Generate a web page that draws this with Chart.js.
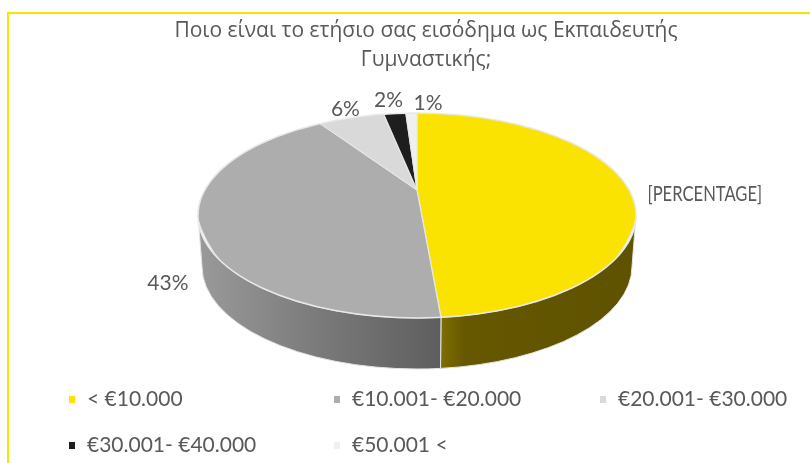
<!DOCTYPE html>
<html><head><meta charset="utf-8">
<style>html,body{margin:0;padding:0;background:#fff;overflow:hidden}canvas{display:block}</style>
<script src="https://cdn.jsdelivr.net/npm/chart.js@4"></script>
</head><body><canvas id="c" width="810" height="463"></canvas>
<script>
const titleLines = ["Ποιο είναι το ετήσιο σας εισόδημα ως Εκπαιδευτής", "Γυμναστικής;"];
const categories = ["< €10.000", "€10.001- €20.000", "€20.001- €30.000", "€30.001- €40.000", "€50.001 <"];
const values = [48, 43, 6, 2, 1];
const valueLabels = ["[PERCENTAGE]", "43%", "6%", "2%", "1%"];
const colors = ["#FAE300", "#ADADAD", "#D9D9D9", "#1E1E1E", "#F0F0F0"];
const wallShades = [["#7F6E00", "#665800", "#5F5200"], ["#9A9A9A", "#7A7A7A", "#5E5E5E"]];

const LATIN = '"Lato","Noto Sans",sans-serif';
const TEXT = "#595959";
// Outline of the tilted disc, and where the slices meet (perspective moves it back)
const disc = {cx: 417, cy: 215.5, rx: 219, ry: 102.5, depth: 51, baseRx: 215, pivotY: 190,
              backSx: 230, backSy: 100, frontSx: 223.5, frontSy: 150};
const labelNudge = [[12, -15, "left"], [-43, 33, "center"], [9, -11, "center"], [-1, -14, "center"], [18, -10, "center"]];
const legendCols = [72, 337, 603], legendRows = [399, 445];

function rim(angle) {
  // point where a slice edge meets the disc outline
  const d = disc, front = Math.sin(angle) > 0;
  const dx = Math.cos(angle) * (front ? d.frontSx : d.backSx), dy = Math.sin(angle) * (front ? d.frontSy : d.backSy);
  const oy = d.pivotY - d.cy;
  const A = dx*dx/(d.rx*d.rx) + dy*dy/(d.ry*d.ry), B = 2*oy*dy/(d.ry*d.ry), C = oy*oy/(d.ry*d.ry) - 1;
  const t = (-B + Math.sqrt(B*B - 4*A*C)) / (2*A);
  return {x: d.cx + dx*t, y: d.pivotY + dy*t};
}
function wallAngle(angle) {
  const p = rim(angle);
  return Math.atan2((p.y - disc.cy) / disc.ry, (p.x - disc.cx) / disc.rx);
}
function enterFace(ctx, a, isFront) {
  const d = disc, r = a.outerRadius;
  ctx.save();
  ctx.beginPath();
  ctx.ellipse(d.cx, d.cy, d.rx, d.ry, 0, 0, Math.PI * 2);
  ctx.clip();
  ctx.beginPath();
  if (isFront) ctx.rect(0, d.pivotY, 810, 463); else ctx.rect(0, 0, 810, d.pivotY + 0.5);
  ctx.clip();
  ctx.translate(d.cx, d.pivotY);
  ctx.scale((isFront ? d.frontSx : d.backSx) / r, (isFront ? d.frontSy : d.backSy) / r);
  ctx.translate(-a.x, -a.y);
}

const tilt = {
  id: "tilt",
  beforeDraw(chart) {
    const {ctx, width, height} = chart;
    ctx.save();
    ctx.strokeStyle = "#FAE300"; ctx.lineWidth = 2;
    ctx.beginPath();
    ctx.moveTo(8, height); ctx.lineTo(8, 13); ctx.lineTo(width, 13);
    ctx.stroke();
    ctx.restore();
  },
  beforeDatasetsDraw(chart) {
    const {ctx} = chart;
    const arcs = chart.getDatasetMeta(0).data;
    const d = disc;
    arcs.forEach((a, i) => {
      const s = Math.max(a.startAngle, 0), e = Math.min(a.endAngle, Math.PI);
      if (e <= s) return;
      const ws = s <= 0 ? 0 : wallAngle(s), we = e >= Math.PI ? Math.PI : wallAngle(e);
      const x0 = d.cx + d.rx * Math.cos(we), x1 = d.cx + d.rx * Math.cos(ws);
      const g = ctx.createLinearGradient(x0, 0, x1, 0);
      const sh = wallShades[i];
      if (i === 0) { g.addColorStop(0, sh[0]); g.addColorStop(0.12, sh[1]); g.addColorStop(1, sh[2]); }
      else { g.addColorStop(0, sh[0]); g.addColorStop(0.5, sh[1]); g.addColorStop(1, sh[2]); }
      ctx.save();
      ctx.beginPath();
      ctx.ellipse(d.cx, d.cy, d.rx, d.ry, 0, ws, we);
      ctx.ellipse(d.cx, d.cy + d.depth, d.baseRx, d.ry, 0, we, ws, true);
      ctx.closePath();
      ctx.fillStyle = g;
      ctx.fill();
      ctx.strokeStyle = "#E4E4E4"; ctx.lineWidth = 1;
      ctx.stroke();
      ctx.restore();
    });
    enterFace(ctx, arcs[0], false);
  },
  afterDatasetsDraw(chart) {
    const {ctx} = chart;
    ctx.restore();
    const arcs = chart.getDatasetMeta(0).data;
    const d = disc;
    enterFace(ctx, arcs[0], true);
    arcs.forEach(a => a.draw(ctx));
    ctx.restore();
    ctx.save();
    ctx.beginPath();
    ctx.ellipse(d.cx, d.cy, d.rx, d.ry, 0, 0, Math.PI * 2);
    ctx.strokeStyle = "#E8E8E8"; ctx.lineWidth = 1.5;
    ctx.stroke();
    ctx.fillStyle = TEXT;
    ctx.textBaseline = "middle";
    ctx.font = "21px " + LATIN;
    arcs.forEach((a, i) => {
      const m = (a.startAngle + a.endAngle) / 2;
      const n = labelNudge[i];
      const x = d.cx + d.rx * Math.cos(m) + n[0], y = d.cy + d.ry * Math.sin(m) + n[1];
      ctx.textAlign = n[2];
      if (i === 0) {
        // Calibri-like narrow capitals: squeeze the wide Lato capitals to the same width
        ctx.save();
        ctx.translate(x, y);
        ctx.scale(0.79, 1);
        ctx.fillText(valueLabels[i], 0, 0);
        ctx.restore();
      } else {
        ctx.fillText(valueLabels[i], x, y);
      }
    });
    ctx.textAlign = "left";
    categories.forEach((t, i) => {
      const col = legendCols[i % 3], row = legendRows[Math.floor(i / 3)];
      ctx.fillStyle = colors[i];
      ctx.fillRect(col - 3, row - 3, 6, 7);
      ctx.fillStyle = TEXT;
      ctx.fillText(t, col + 15, row);
    });
    ctx.restore();
  }
};

new Chart(document.getElementById("c"), {
  type: "pie",
  data: {
    labels: categories,
    datasets: [{
      data: values,
      backgroundColor: colors,
      borderColor: "#E8E8E8",
      borderWidth: 1,
      hoverOffset: 0
    }]
  },
  options: {
    responsive: false,
    animation: false,
    layout: {padding: {left: 60, right: 18, top: 14, bottom: 13}},
    plugins: {
      legend: {display: false},
      tooltip: {enabled: false},
      title: {
        display: true,
        text: titleLines,
        color: TEXT,
        font: {family: '"Open Sans","Noto Sans",sans-serif', size: 21, weight: "normal", lineHeight: 1.38},
        padding: {top: 3, bottom: 6}
      }
    }
  },
  plugins: [tilt]
});
</script></body></html>
